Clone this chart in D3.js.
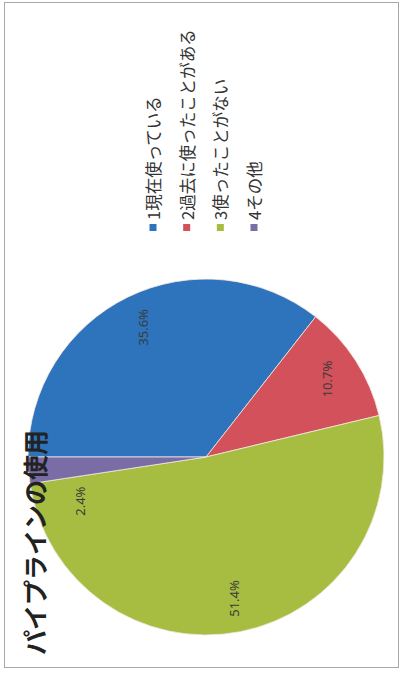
<!DOCTYPE html>
<html>
<head>
<meta charset="utf-8">
<script src="https://cdn.jsdelivr.net/npm/d3@7/dist/d3.min.js"></script>
<style>
  html, body { margin: 0; padding: 0; background: #fff; }
  svg { display: block; }
</style>
</head>
<body>
<svg id="chart" width="401" height="674"></svg>
<script>
// Survey: pipeline usage (share of respondents, %)
const categories = ["1現在使っている", "2過去に使ったことがある", "3使ったことがない", "4その他"];
const values = [35.6, 10.7, 51.4, 2.4];
const valueLabels = ["35.6%", "10.7%", "51.4%", "2.4%"];
const colors = ["#2D74BD", "#D2515A", "#A6BD42", "#7A6DA6"];
const title = "パイプラインの使用";

const W = 401, H = 674;
const svg = d3.select("#chart");

// outer frame
svg.append("rect")
  .attr("x", 4.5).attr("y", 2.5)
  .attr("width", W - 7).attr("height", H - 9)
  .attr("fill", "none").attr("stroke", "#a8a8a8").attr("stroke-width", 1);

// the whole chart is laid out landscape and turned a quarter turn counter-clockwise
const g = svg.append("g").attr("transform", `translate(0,${H}) rotate(-90)`);

const jp = "'Noto Sans CJK JP', 'Noto Sans', sans-serif";

// pie
const cx = H - 457, cy = 206, R = 178;
const pie = d3.pie().sort(null).value(d => d).startAngle(0).endAngle(2 * Math.PI);
const arcs = pie(values);
const arc = d3.arc().innerRadius(0).outerRadius(R);

const pieG = g.append("g").attr("transform", `translate(${cx},${cy})`);
pieG.selectAll("path.slice")
  .data(arcs)
  .join("path")
  .attr("class", "slice")
  .attr("d", arc)
  .attr("fill", (d, i) => colors[i])
  .attr("stroke", "#f4e9e0")
  .attr("stroke-width", 0.8);

// value labels: on the bisector at 0.8R; a very thin slice gets its label
// pulled back into the neighbouring slice
const total = d3.sum(values);
pieG.selectAll("text.val")
  .data(arcs)
  .join("text")
  .attr("class", "val")
  .attr("transform", d => {
    let a = (d.startAngle + d.endAngle) / 2;
    let r = R * 0.81;
    if (d.value / total < 0.05) { a -= 15 * Math.PI / 180; r = R * 0.75; }
    const x = Math.sin(a) * r, y = -Math.cos(a) * r;
    return `translate(${x},${y})`;
  })
  .attr("text-anchor", "middle")
  .attr("dominant-baseline", "central")
  .attr("font-family", "'Noto Sans', 'DejaVu Sans', sans-serif")
  .attr("font-size", 13)
  .attr("fill", "#3a3a3a")
  .text((d, i) => valueLabels[i]);

// title
g.append("text")
  .attr("x", 19)
  .attr("y", 45)
  .attr("font-family", jp)
  .attr("font-weight", "bold")
  .attr("font-size", 25)
  .attr("fill", "#222")
  .text(title);

// legend
const legX = H - 231;
const legY = d3.scalePoint().domain(categories).range([153, 254]);
const leg = g.append("g");
const item = leg.selectAll("g.item")
  .data(categories)
  .join("g")
  .attr("class", "item")
  .attr("transform", d => `translate(${legX},${legY(d)})`);
item.append("rect")
  .attr("x", 0).attr("y", -3.5)
  .attr("width", 7).attr("height", 7)
  .attr("fill", (d, i) => colors[i]);
item.append("text")
  .attr("x", 11)
  .attr("y", 0)
  .attr("dominant-baseline", "central")
  .attr("font-family", jp)
  .attr("font-size", 16.5)
  .attr("fill", "#333")
  .text(d => d);
</script>
</body>
</html>
